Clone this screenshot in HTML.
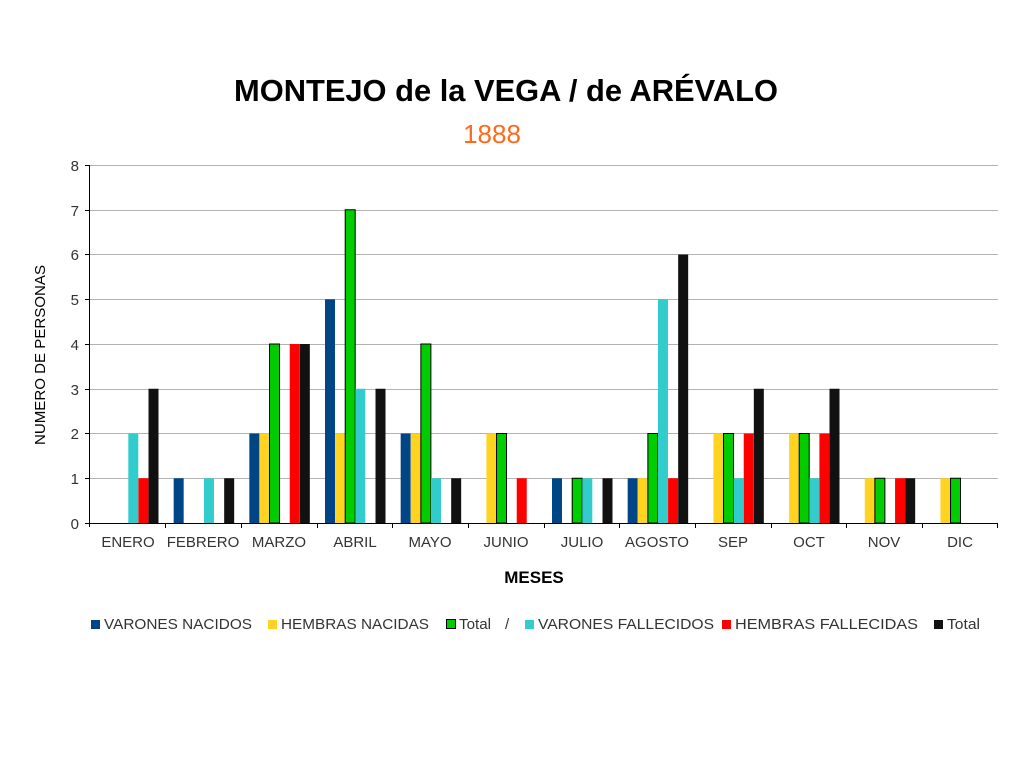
<!DOCTYPE html>
<html><head><meta charset="utf-8"><style>
html,body{margin:0;padding:0;background:#fff;width:1024px;height:768px;overflow:hidden}
text{font-family:"Liberation Sans",Arial,sans-serif}
.a{fill:#004586}.b{fill:#ffd320}.c{fill:#00cc00;stroke:#000;stroke-width:1}.d{fill:#33cccc}.e{fill:#ff0000}.f{fill:#111111}
</style></head><body>
<svg width="1024" height="768" viewBox="0 0 1024 768" xmlns="http://www.w3.org/2000/svg">
<text x="506" y="101" font-size="31" font-weight="bold" text-anchor="middle" fill="#000" textLength="544" lengthAdjust="spacingAndGlyphs">MONTEJO de la VEGA / de ARÉVALO</text>
<text x="492" y="143" font-size="26" text-anchor="middle" fill="#ff6a1a">1888</text>
<g stroke="#b3b3b3" stroke-width="1">
<line x1="89" y1="165.5" x2="998" y2="165.5"/><line x1="89" y1="210.5" x2="998" y2="210.5"/><line x1="89" y1="254.5" x2="998" y2="254.5"/><line x1="89" y1="299.5" x2="998" y2="299.5"/><line x1="89" y1="344.5" x2="998" y2="344.5"/><line x1="89" y1="389.5" x2="998" y2="389.5"/><line x1="89" y1="433.5" x2="998" y2="433.5"/><line x1="89" y1="478.5" x2="998" y2="478.5"/>
</g>
<g font-size="15" fill="#333" text-anchor="end">
<text x="79" y="171">8</text><text x="79" y="216">7</text><text x="79" y="260">6</text><text x="79" y="305">5</text><text x="79" y="350">4</text><text x="79" y="395">3</text><text x="79" y="439">2</text><text x="79" y="484">1</text><text x="79" y="529">0</text>
</g>
<text transform="translate(45,355) rotate(-90)" font-size="15" text-anchor="middle" fill="#000" textLength="180" lengthAdjust="spacingAndGlyphs">NUMERO DE PERSONAS</text>
<g>
<g transform="translate(98,0)"><rect class="d" x="30.3" y="433.5" width="10" height="89.5"/><rect class="e" x="40.4" y="478.25" width="10" height="44.75"/><rect class="f" x="50.5" y="388.75" width="10" height="134.25"/></g>
<g transform="translate(173.67,0)"><rect class="a" x="0" y="478.25" width="10" height="44.75"/><rect class="d" x="30.3" y="478.25" width="10" height="44.75"/><rect class="f" x="50.5" y="478.25" width="10" height="44.75"/></g>
<g transform="translate(249.33,0)"><rect class="a" x="0" y="433.5" width="10" height="89.5"/><rect class="b" x="10.1" y="433.5" width="10" height="89.5"/><rect class="c" x="20.2" y="344" width="10" height="179"/><rect class="e" x="40.4" y="344" width="10" height="179"/><rect class="f" x="50.5" y="344" width="10" height="179"/></g>
<g transform="translate(325,0)"><rect class="a" x="0" y="299.25" width="10" height="223.75"/><rect class="b" x="10.1" y="433.5" width="10" height="89.5"/><rect class="c" x="20.2" y="209.75" width="10" height="313.25"/><rect class="d" x="30.3" y="388.75" width="10" height="134.25"/><rect class="f" x="50.5" y="388.75" width="10" height="134.25"/></g>
<g transform="translate(400.67,0)"><rect class="a" x="0" y="433.5" width="10" height="89.5"/><rect class="b" x="10.1" y="433.5" width="10" height="89.5"/><rect class="c" x="20.2" y="344" width="10" height="179"/><rect class="d" x="30.3" y="478.25" width="10" height="44.75"/><rect class="f" x="50.5" y="478.25" width="10" height="44.75"/></g>
<g transform="translate(476.33,0)"><rect class="b" x="10.1" y="433.5" width="10" height="89.5"/><rect class="c" x="20.2" y="433.5" width="10" height="89.5"/><rect class="e" x="40.4" y="478.25" width="10" height="44.75"/></g>
<g transform="translate(552,0)"><rect class="a" x="0" y="478.25" width="10" height="44.75"/><rect class="c" x="20.2" y="478.25" width="10" height="44.75"/><rect class="d" x="30.3" y="478.25" width="10" height="44.75"/><rect class="f" x="50.5" y="478.25" width="10" height="44.75"/></g>
<g transform="translate(627.67,0)"><rect class="a" x="0" y="478.25" width="10" height="44.75"/><rect class="b" x="10.1" y="478.25" width="10" height="44.75"/><rect class="c" x="20.2" y="433.5" width="10" height="89.5"/><rect class="d" x="30.3" y="299.25" width="10" height="223.75"/><rect class="e" x="40.4" y="478.25" width="10" height="44.75"/><rect class="f" x="50.5" y="254.5" width="10" height="268.5"/></g>
<g transform="translate(703.33,0)"><rect class="b" x="10.1" y="433.5" width="10" height="89.5"/><rect class="c" x="20.2" y="433.5" width="10" height="89.5"/><rect class="d" x="30.3" y="478.25" width="10" height="44.75"/><rect class="e" x="40.4" y="433.5" width="10" height="89.5"/><rect class="f" x="50.5" y="388.75" width="10" height="134.25"/></g>
<g transform="translate(779,0)"><rect class="b" x="10.1" y="433.5" width="10" height="89.5"/><rect class="c" x="20.2" y="433.5" width="10" height="89.5"/><rect class="d" x="30.3" y="478.25" width="10" height="44.75"/><rect class="e" x="40.4" y="433.5" width="10" height="89.5"/><rect class="f" x="50.5" y="388.75" width="10" height="134.25"/></g>
<g transform="translate(854.67,0)"><rect class="b" x="10.1" y="478.25" width="10" height="44.75"/><rect class="c" x="20.2" y="478.25" width="10" height="44.75"/><rect class="e" x="40.4" y="478.25" width="10" height="44.75"/><rect class="f" x="50.5" y="478.25" width="10" height="44.75"/></g>
<g transform="translate(930.33,0)"><rect class="b" x="10.1" y="478.25" width="10" height="44.75"/><rect class="c" x="20.2" y="478.25" width="10" height="44.75"/></g>
</g>
<g stroke="#000" stroke-width="1">
<line x1="89.5" y1="165" x2="89.5" y2="527"/>
<line x1="85" y1="523.5" x2="998" y2="523.5"/>
<line x1="85" y1="165.5" x2="89" y2="165.5"/><line x1="85" y1="210.5" x2="89" y2="210.5"/><line x1="85" y1="254.5" x2="89" y2="254.5"/><line x1="85" y1="299.5" x2="89" y2="299.5"/><line x1="85" y1="344.5" x2="89" y2="344.5"/><line x1="85" y1="389.5" x2="89" y2="389.5"/><line x1="85" y1="433.5" x2="89" y2="433.5"/><line x1="85" y1="478.5" x2="89" y2="478.5"/>
<line x1="165.5" y1="523" x2="165.5" y2="528"/><line x1="241.5" y1="523" x2="241.5" y2="528"/><line x1="317.5" y1="523" x2="317.5" y2="528"/><line x1="392.5" y1="523" x2="392.5" y2="528"/><line x1="468.5" y1="523" x2="468.5" y2="528"/><line x1="544.5" y1="523" x2="544.5" y2="528"/><line x1="619.5" y1="523" x2="619.5" y2="528"/><line x1="695.5" y1="523" x2="695.5" y2="528"/><line x1="771.5" y1="523" x2="771.5" y2="528"/><line x1="846.5" y1="523" x2="846.5" y2="528"/><line x1="922.5" y1="523" x2="922.5" y2="528"/><line x1="997.5" y1="523" x2="997.5" y2="528"/>
</g>
<g font-size="15" fill="#333" text-anchor="middle">
<text x="128" y="547">ENERO</text><text x="203" y="547">FEBRERO</text><text x="279" y="547">MARZO</text><text x="355" y="547">ABRIL</text><text x="430" y="547">MAYO</text><text x="506" y="547">JUNIO</text><text x="582" y="547">JULIO</text><text x="657" y="547">AGOSTO</text><text x="733" y="547">SEP</text><text x="809" y="547">OCT</text><text x="884" y="547">NOV</text><text x="960" y="547">DIC</text>
</g>
<text x="534" y="583" font-size="17" font-weight="bold" text-anchor="middle" fill="#000">MESES</text>
<g font-size="15" fill="#333">
<rect class="a" x="91" y="620" width="9" height="9"/><text x="104" y="629" textLength="148" lengthAdjust="spacingAndGlyphs">VARONES NACIDOS</text>
<rect class="b" x="268" y="620" width="9" height="9"/><text x="281" y="629" textLength="148" lengthAdjust="spacingAndGlyphs">HEMBRAS NACIDAS</text>
<rect class="c" x="446.5" y="619.5" width="9" height="9"/><text x="459" y="629" textLength="32" lengthAdjust="spacingAndGlyphs">Total</text>
<text x="505" y="629">/</text>
<rect class="d" x="525" y="620" width="9" height="9"/><text x="538" y="629" textLength="176" lengthAdjust="spacingAndGlyphs">VARONES FALLECIDOS</text>
<rect class="e" x="722" y="620" width="9" height="9"/><text x="735" y="629" textLength="183" lengthAdjust="spacingAndGlyphs">HEMBRAS FALLECIDAS</text>
<rect class="f" x="934" y="620" width="9" height="9"/><text x="947" y="629" textLength="33" lengthAdjust="spacingAndGlyphs">Total</text>
</g>
</svg>
</body></html>
